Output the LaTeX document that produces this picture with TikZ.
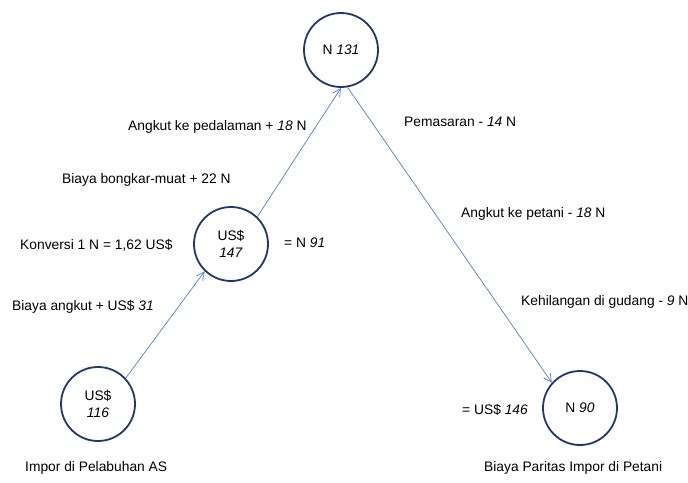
\documentclass[tikz,border=0pt]{standalone}
\usepackage{fontspec}
\setmainfont{Liberation Sans}
\usetikzlibrary{arrows.meta}

\begin{document}
\begin{tikzpicture}[x=1pt,y=-1pt,
  price/.style={circle,draw=navy,line width=1.8pt,minimum size=74pt,inner sep=0pt,align=center,font=\fontsize{13.8}{17}\selectfont},
  lbl/.style={anchor=west,inner sep=0pt,font=\fontsize{13.8}{16}\selectfont},
  flow/.style={draw=flowblue,line width=0.7pt,-{Straight Barb[length=8pt,width=8pt]}}]
\definecolor{navy}{RGB}{31,56,100}
\definecolor{flowblue}{RGB}{79,129,189}
\useasboundingbox (0,0) rectangle (688,482);
%% nodes
\node[price] (top) at (341,50) {N \textit{131}};
\node[price] (mid) at (231,244) {US\$\\\textit{147}};
\node[price] (imp) at (98,404) {US\$\\\textit{116}};
\node[price] (far) at (580,408) {N \textit{90}};
%% labels
\node[lbl] (l1) at (128,127) {Angkut ke pedalaman + \textit{18} N};
\node[lbl] (l2) at (404,122) {Pemasaran - \textit{14} N};
\node[lbl] (l3) at (62,180) {Biaya bongkar-muat + 22 N};
\node[lbl] (l4) at (461,214) {Angkut ke petani - \textit{18} N};
\node[lbl] (l5) at (20,245) {Konversi 1 N = 1,62 US\$};
\node[lbl] (l6) at (284,243) {= N \textit{91}};
\node[lbl] (l7) at (12,307) {Biaya angkut + US\$ \textit{31}};
\node[lbl] (l8) at (521,302) {Kehilangan di gudang - \textit{9} N};
\node[lbl] (l9) at (462,410) {= US\$ \textit{146}};
\node[lbl] (l10) at (25,468) {Impor di Pelabuhan AS};
\node[lbl] (l11) at (484,468) {Biaya Paritas Impor di Petani};
%%% edges
\draw[flow] (imp.43) -- (mid.226);
\draw[flow] (mid.46) -- (top.-90);
\draw[flow] (top.-80) -- (far.138);
\end{tikzpicture}
\end{document}
